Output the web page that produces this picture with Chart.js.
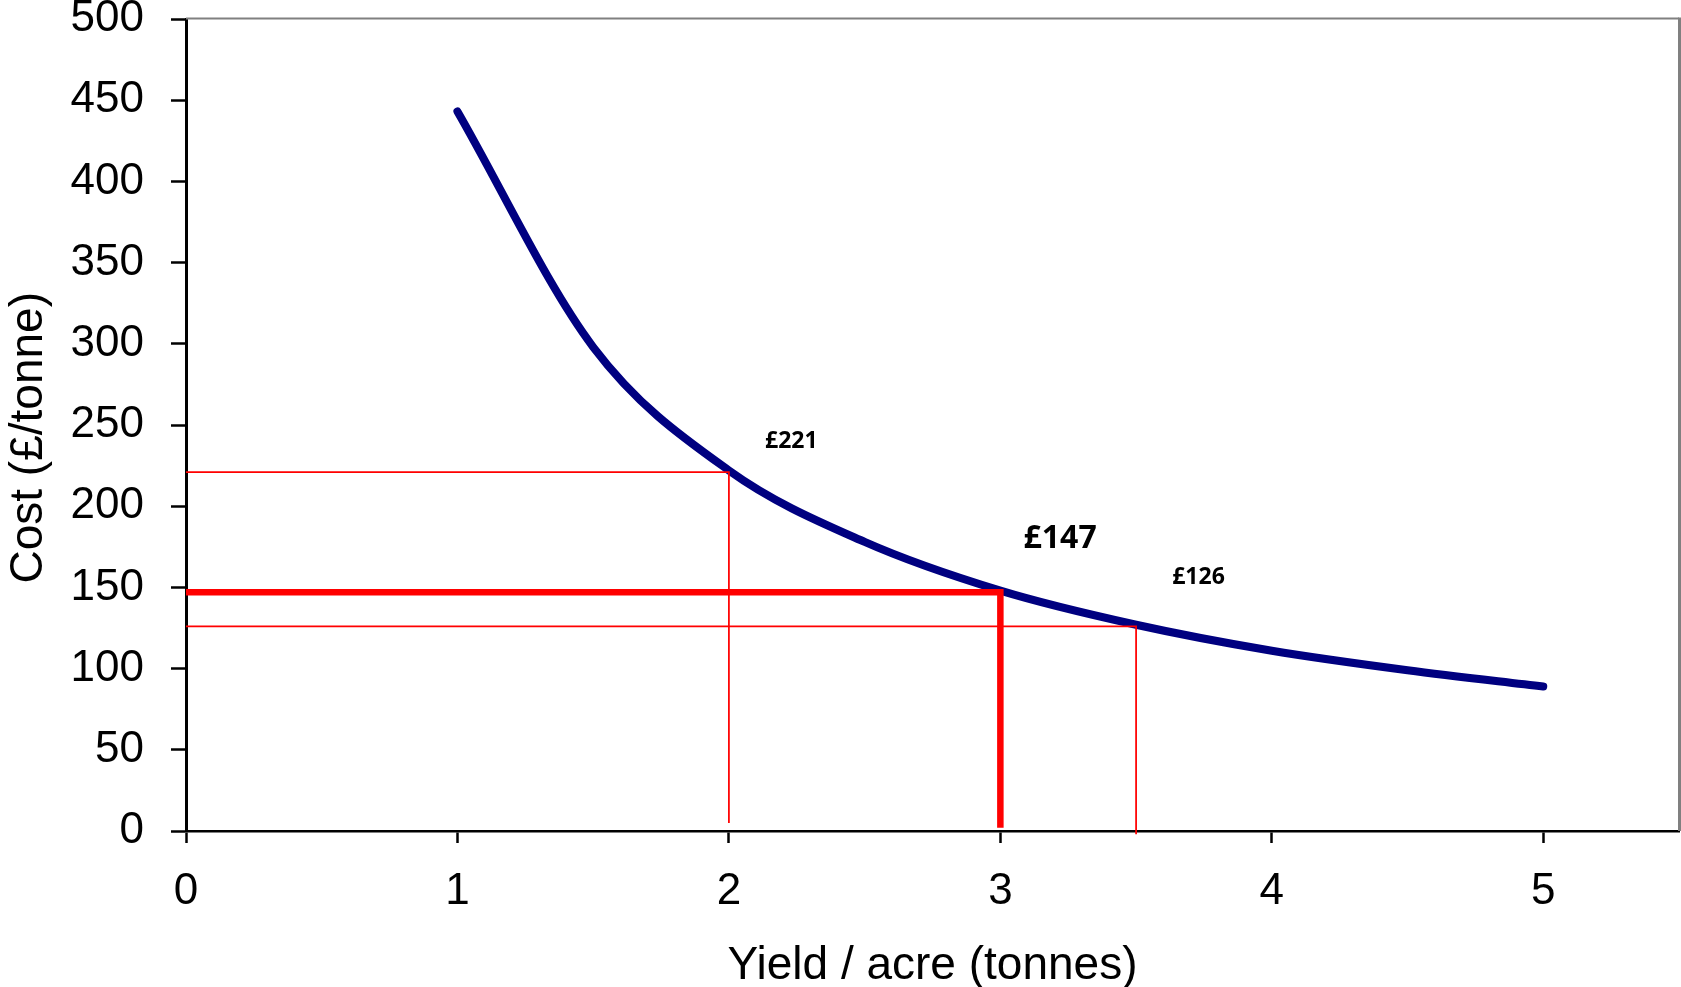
<!DOCTYPE html>
<html>
<head>
<meta charset="utf-8">
<script src="https://cdn.jsdelivr.net/npm/chart.js@4"></script>
<style>
  html, body { margin: 0; padding: 0; background: #fff; }
  #wrap { width: 1681px; height: 987px; position: relative; }
</style>
</head>
<body>
<div id="wrap"><canvas id="costChart"></canvas></div>
<script>
// cost per tonne vs yield
const yieldTonnes = [1, 1.5, 2, 2.5, 3, 3.5, 4, 4.5, 5];
const costPerTonne = [443, 298, 222, 178, 148, 127, 111, 99, 89];

// red guide lines: yield, cost, and where the drop line stops
const guideYield = [2, 3, 3.5];
const guideCost = [221, 147, 126];
const guideFloor = [5, 2, -2];

// value labels (data units)
const labelText = ['£221', '£147', '£126'];
const labelYield = [2.23, 3.22, 3.73];
const labelCost = [240, 180, 156];

const xTicks = [0, 1, 2, 3, 4, 5];

Chart.defaults.font.family = "'Liberation Sans', Arial, sans-serif";
Chart.defaults.color = '#000';

const guideSets = guideYield.map((gx, i) => ({
    data: [
        { x: 0, y: guideCost[i] },
        { x: gx, y: guideCost[i] },
        { x: gx, y: guideFloor[i] }
    ],
    borderColor: '#FF0000',
    borderWidth: i === 1 ? 6.5 : 1.75,
    borderJoinStyle: 'miter',
    pointRadius: 0,
    tension: 0,
    clip: false
}));

const curveSet = {
    data: yieldTonnes.map((v, i) => ({ x: v, y: costPerTonne[i] })),
    borderColor: '#000080',
    borderWidth: 8,
    borderCapStyle: 'round',
    pointRadius: 0,
    cubicInterpolationMode: 'monotone',
    clip: false
};

// grey top/right frame like the spreadsheet plot area
const frame = {
    id: 'frame',
    beforeDatasetsDraw(chart) {
        const { ctx, chartArea } = chart;
        ctx.save();
        ctx.strokeStyle = '#808080';
        ctx.lineWidth = 2;
        ctx.beginPath();
        ctx.moveTo(chartArea.left, chartArea.top - 0.5);
        ctx.lineTo(chartArea.right, chartArea.top - 0.5);
        ctx.stroke();
        ctx.lineWidth = 3;
        ctx.beginPath();
        ctx.moveTo(chartArea.right + 0.5, chartArea.top - 1.5);
        ctx.lineTo(chartArea.right + 0.5, chartArea.bottom);
        ctx.stroke();
        ctx.restore();
    }
};

const valueLabels = {
    id: 'valueLabels',
    afterDatasetsDraw(chart) {
        const { ctx } = chart;
        const x = chart.scales.x, y = chart.scales.y;
        ctx.save();
        ctx.fillStyle = '#000';
        ctx.textAlign = 'center';
        ctx.textBaseline = 'middle';
        labelText.forEach((t, i) => {
            ctx.font = 'bold ' + (i === 1 ? 32 : 23) + "px 'Open Sans', sans-serif";
            ctx.fillText(t, x.getPixelForValue(labelYield[i]), y.getPixelForValue(labelCost[i]));
        });
        ctx.restore();
    }
};

new Chart(document.getElementById('costChart'), {
    type: 'line',
    data: { datasets: [...guideSets, curveSet] },
    options: {
        responsive: true,
        maintainAspectRatio: false,
        animation: false,
        layout: { padding: { top: 19, right: 2, bottom: 0, left: 0 } },
        plugins: {
            legend: { display: false },
            tooltip: { enabled: false }
        },
        scales: {
            x: {
                type: 'linear',
                min: 0,
                max: 5.5,
                afterFit(scale) { scale.height = 156; },
                afterBuildTicks(scale) { scale.ticks = xTicks.map(v => ({ value: v })); },
                border: { color: '#000', width: 2.5 },
                grid: { drawOnChartArea: false, drawTicks: true, tickLength: 12, tickWidth: 2.5, tickColor: '#000' },
                ticks: { padding: 22, font: { size: 44 }, color: '#000' },
                title: {
                    display: true,
                    text: 'Yield / acre (tonnes)',
                    font: { size: 46, lineHeight: 0.9 },
                    color: '#000',
                    padding: { top: 0, bottom: 0 }
                }
            },
            y: {
                min: 0,
                max: 500,
                afterFit(scale) {
                    scale.width = 186;
                    scale.paddingTop = 0;
                    scale.paddingBottom = 0;
                },
                border: { color: '#000', width: 3 },
                grid: { drawOnChartArea: false, drawTicks: true, tickLength: 15, tickWidth: 2.5, tickColor: '#000' },
                ticks: { stepSize: 50, padding: 27, font: { size: 44 }, color: '#000' },
                title: {
                    display: true,
                    text: 'Cost (£/tonne)  ',
                    font: { size: 46 },
                    color: '#000',
                    padding: { top: 2, bottom: 0 }
                }
            }
        }
    },
    plugins: [frame, valueLabels]
});
</script>
</body>
</html>
